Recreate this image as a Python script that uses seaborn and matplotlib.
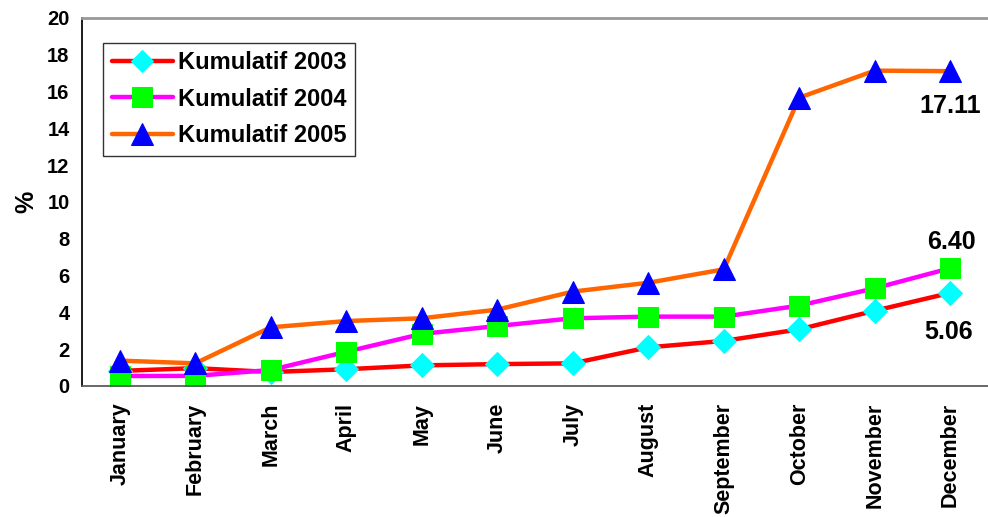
import numpy as np
import pandas as pd
import matplotlib
matplotlib.use("Agg")
import matplotlib.pyplot as plt
import seaborn as sns

sns.set_theme(style="white")
plt.rcParams['font.family'] = ['Liberation Sans', 'DejaVu Sans']
plt.rcParams['font.weight'] = 'bold'
plt.rcParams['text.color'] = 'black'
plt.rcParams['xtick.color'] = 'black'
plt.rcParams['ytick.color'] = 'black'
plt.rcParams['axes.labelcolor'] = 'black'

months = ["January", "February", "March", "April", "May", "June", "July",
          "August", "September", "October", "November", "December"]
kum_2003 = [0.82, 0.97, 0.76, 0.91, 1.12, 1.19, 1.23, 2.10, 2.45, 3.08, 4.09, 5.06]
kum_2004 = [0.54, 0.55, 0.87, 1.86, 2.83, 3.26, 3.68, 3.77, 3.77, 4.37, 5.31, 6.40]
kum_2005 = [1.38, 1.23, 3.19, 3.53, 3.68, 4.15, 5.13, 5.61, 6.34, 15.67, 17.14, 17.11]

df = pd.DataFrame({"month": months, "2003": kum_2003, "2004": kum_2004, "2005": kum_2005})

fig = plt.figure(figsize=(9.88, 5.17), dpi=100)
ax = fig.add_axes([0.083, 0.2534, 0.917, 0.7118])

# series styles: (column, line colour, marker, marker colour, size)
styles = [
    ("2003", "#ff0000", "D", "#00ffff", 12),
    ("2004", "#ff00ff", "s", "#00ff00", 15),
    ("2005", "#ff6600", "^", "#0000ff", 16),
]
for col, lc, mk, mc, ms in styles:
    sns.lineplot(data=df, x="month", y=col, ax=ax, color=lc, linewidth=3.2,
                 marker=mk, markersize=ms, markerfacecolor=mc, markeredgecolor=mc,
                 label="Kumulatif " + col, sort=False)

ax.set_xlim(-0.5, 11.5)
ax.set_ylim(0, 20)
ax.set_yticks(np.arange(0, 21, 2))
ax.set_xticks(np.arange(12))
ax.set_xticklabels(months, rotation=90, fontsize=15.5, fontweight="bold")
ax.set_xticks(np.arange(-0.5, 12, 1), minor=True)
ax.tick_params(axis="x", which="major", length=0, pad=12)
ax.tick_params(axis="x", which="minor", length=6, width=1, color="black", direction="out")
ax.tick_params(axis="y", length=5, width=1, color="black", direction="out", labelsize=14.5, pad=4)
for t in ax.get_yticklabels():
    t.set_fontweight("bold")
ax.set_xlabel("")
ax.set_ylabel("%", fontsize=18, fontweight="bold", labelpad=6)

ax.spines["left"].set_color("black")
ax.spines["bottom"].set_color("#555555")
ax.spines["top"].set_color("#999999")
ax.spines["top"].set_linewidth(2)
ax.spines["right"].set_visible(False)

ax.annotate("17.11", (11, kum_2005[11]), xytext=(0, -30), textcoords="offset points",
            ha="center", fontsize=18, fontweight="bold")
ax.annotate("6.40", (11, kum_2004[11]), xytext=(1, 14), textcoords="offset points",
            ha="center", fontsize=18, fontweight="bold")
ax.annotate("5.06", (11, kum_2003[11]), xytext=(-1, -33), textcoords="offset points",
            ha="center", fontsize=18, fontweight="bold")

leg = ax.legend(loc="upper left", bbox_to_anchor=(0.0105, 0.965), fontsize=17,
                frameon=True, fancybox=False, edgecolor="black", handlelength=2.6,
                handletextpad=0.2, borderpad=0.35, labelspacing=0.58, markerscale=0.95)
leg.get_frame().set_linewidth(1)
for t in leg.get_texts():
    t.set_fontweight("bold")

fig.savefig("out.png", dpi=100)
